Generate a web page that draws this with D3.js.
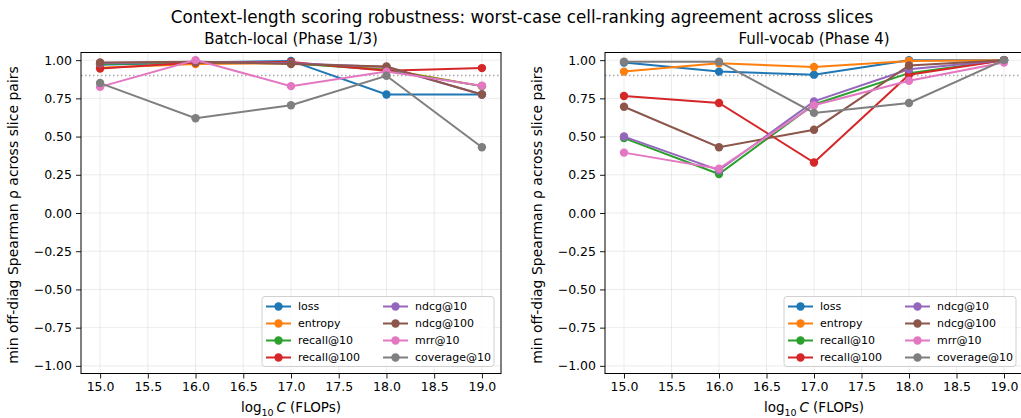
<!DOCTYPE html>
<html><head><meta charset="utf-8">
<script src="https://cdn.jsdelivr.net/npm/d3@7"></script>
<style>
html,body{margin:0;padding:0;background:#fff;}
svg{font-family:"DejaVu Sans",sans-serif;display:block;}
</style></head>
<body><svg id="chart" width="1021" height="418"></svg>
<script>
// ---- data ----
const xValues = [15, 16, 17, 18, 19];
const xTicks = [15.0, 15.5, 16.0, 16.5, 17.0, 17.5, 18.0, 18.5, 19.0];
const yTicks = [-1.0, -0.75, -0.5, -0.25, 0.0, 0.25, 0.5, 0.75, 1.0];
const metrics = ["loss", "entropy", "recall@10", "recall@100", "ndcg@10", "ndcg@100", "mrr@10", "coverage@10"];
const colors = ["#1f77b4", "#ff7f0e", "#2ca02c", "#d62728", "#9467bd", "#8c564b", "#e377c2", "#7f7f7f"];
const threshold = 0.9;

const batchLoss      = [0.970, 0.985, 0.995, 0.775, 0.775];
const batchEntropy   = [0.950, 0.975, 0.980, 0.940, 0.830];
const batchRecall10  = [0.975, 0.985, 0.980, 0.935, 0.830];
const batchRecall100 = [0.945, 0.985, 0.988, 0.930, 0.948];
const batchNdcg10    = [0.980, 0.990, 0.980, 0.955, 0.775];
const batchNdcg100   = [0.985, 0.990, 0.975, 0.958, 0.775];
const batchMrr10     = [0.825, 1.000, 0.830, 0.925, 0.832];
const batchCoverage  = [0.850, 0.620, 0.705, 0.898, 0.430];

const fullLoss      = [0.985, 0.925, 0.905, 1.000, 1.000];
const fullEntropy   = [0.925, 0.980, 0.955, 0.995, 1.000];
const fullRecall10  = [0.490, 0.255, 0.710, 0.915, 1.000];
const fullRecall100 = [0.765, 0.720, 0.330, 0.905, 1.000];
const fullNdcg10    = [0.500, 0.280, 0.730, 0.940, 1.000];
const fullNdcg100   = [0.695, 0.430, 0.545, 0.965, 1.000];
const fullMrr10     = [0.395, 0.290, 0.705, 0.865, 0.985];
const fullCoverage  = [0.990, 0.990, 0.655, 0.720, 1.000];

const suptitle = "Context-length scoring robustness: worst-case cell-ranking agreement across slices";
const panelTitles = ["Batch-local (Phase 1/3)", "Full-vocab (Phase 4)"];
const yLabel = "min off-diag Spearman ρ across slice pairs";

const panels = [
  {title: panelTitles[0], series: [batchLoss, batchEntropy, batchRecall10, batchRecall100, batchNdcg10, batchNdcg100, batchMrr10, batchCoverage], left: 81, right: 501},
  {title: panelTitles[1], series: [fullLoss, fullEntropy, fullRecall10, fullRecall100, fullNdcg10, fullNdcg100, fullMrr10, fullCoverage], left: 605, right: 1023}
];

const svg = d3.select("#chart");
const axTop = 52.5, axBottom = 373.5;

svg.append("text").attr("x", 522).attr("y", 23).attr("text-anchor", "middle")
  .attr("font-size", 16.8).attr("fill", "#000").text(suptitle);

panels.forEach(p => {
  const x = d3.scaleLinear().domain([14.8, 19.2]).range([p.left, p.right]);
  const y = d3.scaleLinear().domain([-1.05, 1.05]).range([axBottom, axTop]);
  const g = svg.append("g");
  const clipId = "clip" + p.left;
  svg.append("clipPath").attr("id", clipId).append("rect")
    .attr("x", p.left).attr("y", axTop - 6).attr("width", p.right - p.left + 6).attr("height", axBottom - axTop + 12);

  // grid
  g.append("g").selectAll("line").data(xTicks).join("line")
    .attr("x1", d => x(d)).attr("x2", d => x(d)).attr("y1", axTop).attr("y2", axBottom)
    .attr("stroke", "#b0b0b0").attr("stroke-opacity", 0.3).attr("stroke-width", 0.8);
  g.append("g").selectAll("line").data(yTicks).join("line")
    .attr("x1", p.left).attr("x2", p.right).attr("y1", d => y(d)).attr("y2", d => y(d))
    .attr("stroke", "#b0b0b0").attr("stroke-opacity", 0.3).attr("stroke-width", 0.8);

  // threshold
  g.append("line").attr("x1", p.left).attr("x2", p.right)
    .attr("y1", y(threshold)).attr("y2", y(threshold))
    .attr("stroke", "#808080").attr("stroke-opacity", 0.7).attr("stroke-width", 1.5)
    .attr("stroke-dasharray", "1.5,2.5");

  // axes
  const xAxis = d3.axisBottom(x).tickValues(xTicks).tickFormat(d3.format(".1f")).tickSize(5).tickPadding(4);
  const yAxis = d3.axisLeft(y).tickValues(yTicks).tickFormat(d => d3.format(".2f")(d).replace("-", "\u2212")).tickSize(5).tickPadding(4);
  const gx = g.append("g").attr("transform", `translate(0,${axBottom})`).call(xAxis);
  const gy = g.append("g").attr("transform", `translate(${p.left},0)`).call(yAxis);
  [gx, gy].forEach(a => {
    a.select(".domain").remove();
    a.selectAll("text").attr("font-size", 12.5).attr("fill", "#000").attr("font-family", "DejaVu Sans");
    a.selectAll("line").attr("stroke", "#000").attr("stroke-width", 0.9);
  });

  // lines & markers
  const line = d3.line().x((d, i) => x(xValues[i])).y(d => y(d));
  const plot = g.append("g").attr("clip-path", `url(#${clipId})`);
  p.series.forEach((s, k) => {
    const sg = plot.append("g");
    sg.append("path").attr("d", line(s)).attr("fill", "none")
      .attr("stroke", colors[k]).attr("stroke-width", 2);
    sg.selectAll("circle").data(s).join("circle")
      .attr("cx", (d, i) => x(xValues[i])).attr("cy", d => y(d)).attr("r", 4.2)
      .attr("fill", colors[k]);
  });

  // spines
  g.append("rect").attr("x", p.left).attr("y", axTop).attr("width", p.right - p.left).attr("height", axBottom - axTop)
    .attr("fill", "none").attr("stroke", "#000").attr("stroke-width", 1);

  // titles
  svg.append("text").attr("x", (p.left + p.right) / 2).attr("y", 44).attr("text-anchor", "middle")
    .attr("font-size", 15).text(p.title);
  const xl = svg.append("text").attr("x", (p.left + p.right) / 2).attr("y", 412).attr("text-anchor", "middle")
    .attr("font-size", 13.5);
  xl.append("tspan").text("log");
  xl.append("tspan").attr("font-size", 9.5).attr("dy", 4).text("10");
  xl.append("tspan").attr("dy", -4).text("\u2009");
  xl.append("tspan").attr("font-style", "italic").text("C");
  xl.append("tspan").text(" (FLOPs)");
  svg.append("text").attr("transform", `translate(${p.left - 63},${(axTop + axBottom) / 2 + 2}) rotate(-90)`)
    .attr("text-anchor", "middle").attr("font-size", 14).text(yLabel);

  // legend
  const lw = 232, lh = 70;
  const lx = p.right - 7 - lw, ly = axBottom - 7 - lh;
  const leg = svg.append("g").attr("transform", `translate(${lx},${ly})`);
  leg.append("rect").attr("width", lw).attr("height", lh).attr("rx", 3)
    .attr("fill", "#fff").attr("fill-opacity", 0.8).attr("stroke", "#d0d0d0").attr("stroke-width", 1);
  metrics.forEach((m, k) => {
    const col = Math.floor(k / 4), row = k % 4;
    const ox = 4 + col * 117, oy = 10 + row * 17;
    const it = leg.append("g").attr("transform", `translate(${ox},${oy})`);
    it.append("line").attr("x1", 0).attr("x2", 25).attr("stroke", colors[k]).attr("stroke-width", 2);
    it.append("circle").attr("cx", 12.5).attr("r", 4.2).attr("fill", colors[k]);
    it.append("text").attr("x", 32).attr("dy", "0.35em").attr("font-size", 11).text(m);
  });
});
</script></body></html>
